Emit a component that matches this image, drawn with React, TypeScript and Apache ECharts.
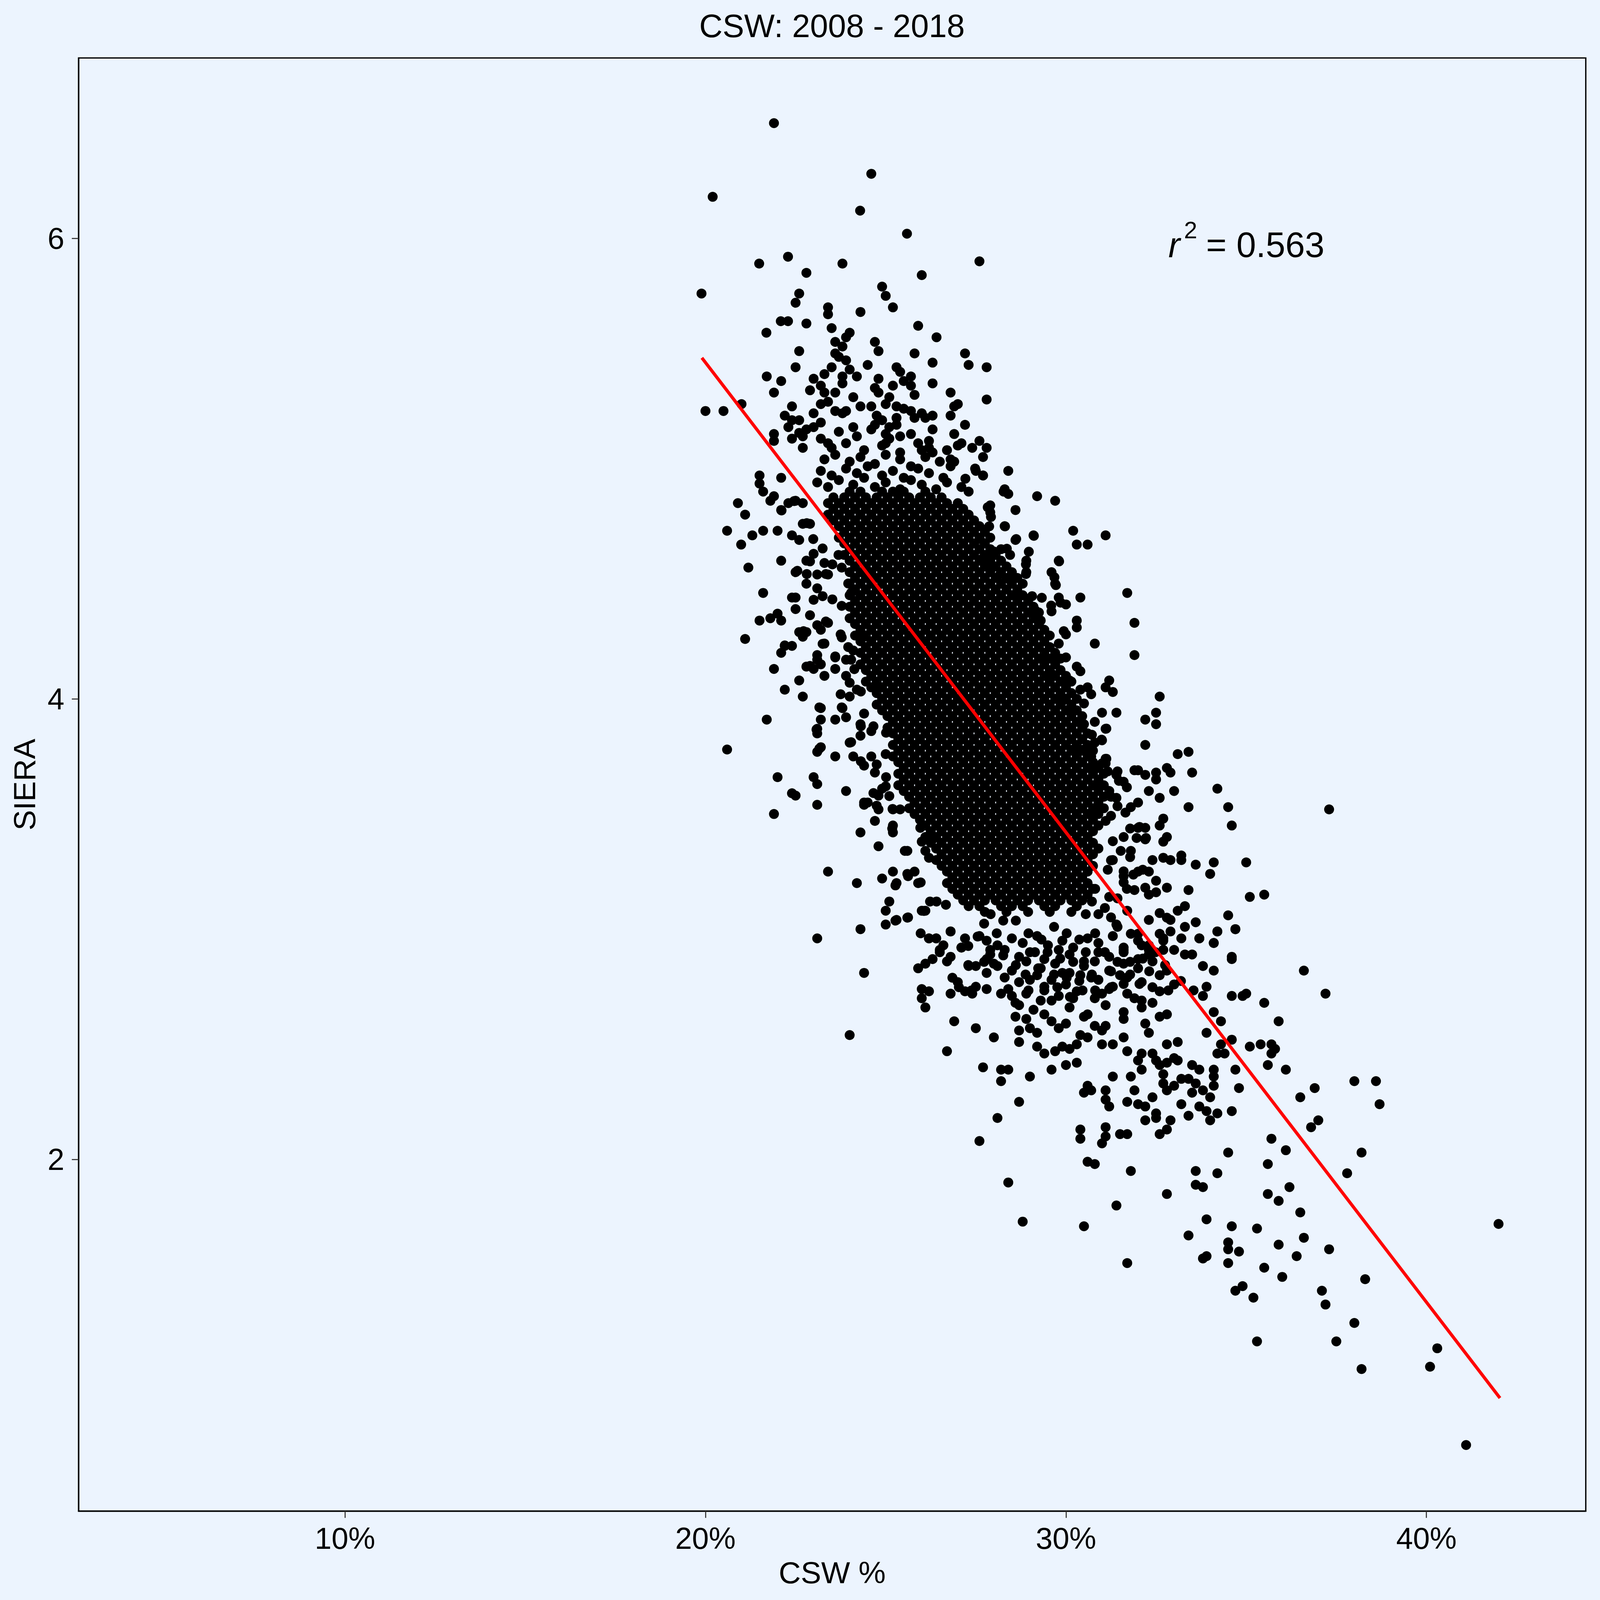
import React, { useEffect, useRef } from "react";
import * as echarts from "echarts";

const TITLE = "CSW: 2008 - 2018";
const X_NAME = "CSW %";
const Y_NAME = "SIERA";
const X_TICKS = [10, 20, 30, 40];
const Y_TICKS = [2, 4, 6];
const X_RANGE = [2.61, 44.42];
const Y_RANGE = [0.473, 6.783];
const FIT_LINE = [[19.9, 5.481], [42.04, 0.964]];
const R2_VALUE = "0.563";

// [CSW %, SIERA]
const topPoints = [
  [21.9,6.50],[24.6,6.28],[20.2,6.18],[24.29,6.12],[25.59,6.02],[22.29,5.92],[21.49,5.89],[23.8,5.89],[22.8,5.85],[27.6,5.90],
  [26.0,5.84],[19.89,5.76],[22.6,5.76],[22.5,5.72],[24.9,5.79],[25.0,5.75],[25.2,5.70],[23.4,5.70],[23.4,5.67],[24.3,5.68],
  [22.09,5.64],[22.29,5.64],[22.8,5.63],[23.5,5.61],[21.69,5.59],[25.9,5.62],[26.41,5.57],[24.0,5.59],[23.9,5.57],[24.7,5.55],
  [24.8,5.51],[23.6,5.55],[23.8,5.53],[23.6,5.50],[23.7,5.485],[23.9,5.47],[22.6,5.51],[25.8,5.50],[27.2,5.50],[27.3,5.45],
  [26.3,5.46],[27.8,5.44],[22.5,5.44],[24.5,5.45],[25.3,5.44],[25.4,5.42],[25.7,5.40],[25.5,5.38],[25.7,5.36],[25.8,5.32],
  [23.5,5.44],[23.3,5.41],[24.0,5.43],[24.2,5.40],[23.8,5.40],[23.8,5.37],[21.7,5.40],[22.1,5.38],[21.9,5.33],[23.0,5.39],
  [23.2,5.36],[22.9,5.34],[23.3,5.33],[23.6,5.33],[24.8,5.39],[24.7,5.35],[24.8,5.33],[25.2,5.36],[25.1,5.31],[26.3,5.37],
  [26.8,5.33],[27.8,5.30],[27.0,5.28],[26.9,5.27],[26.8,5.23],[24.1,5.31],[24.3,5.27],[23.2,5.28],[23.4,5.29],[22.4,5.27],
  [20.0,5.25],[20.5,5.25],[21.0,5.28],[22.2,5.23],[22.4,5.21],[22.6,5.21],[22.3,5.18],[23.0,5.24],[23.6,5.25],[23.8,5.24],
  [23.9,5.25],[24.6,5.27],[24.75,5.23],[24.7,5.19],[24.9,5.21],[25.1,5.18],[25.3,5.22],[25.3,5.19],[25.0,5.28],[25.3,5.27],
  [25.5,5.26],[25.7,5.25],[25.8,5.22],[26.0,5.24],[26.1,5.22],[26.3,5.23],[27.2,5.19],[26.3,5.17],[26.2,5.12],[26.2,5.09],
  [26.3,5.07],[25.7,5.15],[25.4,5.14],[25.0,5.15],[25.0,5.11],[24.1,5.18],[23.2,5.20],[23.0,5.18],[22.8,5.17],[22.6,5.155],
  [22.7,5.14],[21.9,5.15],[21.9,5.12],[22.4,5.13],[23.2,5.13],[23.4,5.11],[22.7,5.09],[26.9,5.15],[27.1,5.11],[27.0,5.10],
  [27.6,5.12],[27.8,5.09],[27.4,5.09],[27.7,5.05],[26.0,5.08],[26.7,5.08],[26.8,5.04],[26.9,5.03],[26.8,5.01],[28.4,4.99],
  [27.5,4.99],[27.7,4.97],[28.3,4.91],[28.4,4.89],[29.2,4.88],[29.7,4.86],[27.9,4.84],[27.9,4.81],[28.6,4.82],[21.5,4.97],
  [21.5,4.935],[21.6,4.90],[22.1,4.96],[20.9,4.85],[21.1,4.80],[21.8,4.86],[21.9,4.88],[22.1,4.82],[22.3,4.85],[22.5,4.86],
  [22.7,4.85]
];

// upper, less solid part of the core
const coreTop = [
  [23.7,5.16],[24.2,5.14],[24.6,5.17],[25.1,5.13],[23.5,5.09],[23.9,5.11],[24.4,5.08],[24.9,5.10],[25.4,5.07],[25.9,5.11],
  [23.3,5.04],[23.6,5.06],[24.0,5.03],[24.3,5.05],[24.7,5.02],[25.0,5.06],[25.4,5.04],[25.7,5.01],[26.1,5.05],[26.5,5.03],
  [23.2,4.99],[23.5,4.97],[23.9,5.00],[24.2,4.98],[24.5,5.01],[24.9,4.97],[25.2,4.99],[25.5,4.96],[25.9,5.00],[26.2,4.98],
  [26.6,4.96],[23.1,4.94],[23.4,4.92],[23.7,4.95],[24.1,4.93],[24.4,4.96],[24.7,4.92],[25.0,4.94],[25.4,4.91],[25.7,4.95],
  [26.0,4.93],[26.4,4.91],[26.7,4.94],[27.1,4.92]
];

const leftFringe = [
  [20.6,4.73],[21.3,4.71],[21.6,4.73],[22.0,4.73],[20.99,4.67],[21.19,4.57],[22.1,4.60],[22.4,4.71],[22.6,4.69],[22.7,4.76],
  [22.9,4.76],[22.5,4.55],[22.8,4.60],[23.0,4.63],[23.1,4.54],[23.4,4.54],[23.3,4.59],[21.6,4.46],[22.8,4.50],[23.1,4.48],
  [22.4,4.44],[22.5,4.44],[22.5,4.39],[23.0,4.43],[21.5,4.34],[21.8,4.35],[22.0,4.37],[22.1,4.34],[21.1,4.26],[22.6,4.29],
  [22.7,4.27],[22.8,4.29],[23.1,4.32],[23.4,4.33],[23.2,4.30],[22.2,4.23],[22.4,4.23],[22.1,4.20],[23.3,4.24],[21.9,4.13],
  [22.8,4.14],[23.0,4.13],[23.2,4.15],[22.6,4.08],[23.3,4.10],[22.2,4.04],[22.7,4.01],[23.1,4.19],[23.1,4.17],[23.6,4.18],
  [23.9,4.17],[23.6,4.13],[23.2,3.96],[23.2,3.91],[21.7,3.91],[20.6,3.78],[23.6,3.91],[23.8,3.96],[23.9,3.92],[23.1,3.87],
  [23.1,3.85],[23.2,3.79],[23.1,3.77],[23.6,3.75],[24.1,3.75],[24.0,3.81],[24.3,3.89],[24.3,3.84],[24.6,3.86],[24.0,4.01],
  [24.0,4.07],[22.0,3.66],[23.0,3.66],[23.1,3.63],[22.4,3.59],[22.5,3.58],[23.9,3.60],[23.1,3.54],[21.9,3.50],[24.3,3.42],
  [24.4,3.54],[24.5,3.55],[24.8,3.52],[24.7,3.47],[24.8,3.36],[25.2,3.45],[25.2,3.42],[25.6,3.34],[23.4,3.25],[24.2,3.20],
  [24.9,3.22],[25.2,3.25],[25.3,3.20],[25.6,3.24],[25.8,3.25],[25.9,3.20],[25.1,3.12],[25.0,3.08],[25.3,3.04],[25.0,3.02],
  [25.6,3.05],[24.3,3.00],[23.1,2.96],[26.0,3.08],[26.1,3.08],[26.2,3.31],[26.3,3.39],[26.0,3.38],[26.2,2.96],[26.4,2.96],
  [26.5,2.91],[26.8,2.99],[27.1,2.92],[25.96,3.44],[26.1,3.34],[24.4,3.71],[24.7,3.68],[24.6,3.75],[25.0,3.76],[24.9,3.61],
  [25.0,3.62],[24.8,3.58],[25.2,3.52],[25.4,3.52],[23.75,4.28],[24.1,4.21],[24.4,4.27],[23.9,4.10],[24.2,4.04],[23.75,4.02],
  [24.0,2.54],[24.4,2.81],[25.9,2.83],[26.0,2.74],[26.0,2.70],[26.1,2.66],[26.2,2.73],[26.8,2.99],[26.4,2.96],[26.2,2.96],
  [26.6,2.93],[26.5,2.90],[26.7,2.86],[26.8,2.88],[26.3,2.87],[26.1,2.85],[27.0,2.77],[27.2,2.73],[27.4,2.72],[27.5,2.75],
  [27.8,2.74],[26.8,2.72],[27.3,2.84],[27.5,2.84],[27.8,2.81],[27.8,2.87],[28.0,2.85],[27.1,2.92],[27.2,2.96],[27.6,2.97],
  [27.9,2.91],[22.11,4.818],[22.46,4.859],[22.81,4.763],[22.99,4.694],[23.25,4.653],[23.69,4.625],[23.52,4.584],[22.9,4.597],
  [22.81,4.542],[22.55,4.556],[23.34,4.542],[23.78,4.57],[23.96,4.501],[23.25,4.446],[23.52,4.432],[23.78,4.404],[24.04,4.46],
  [22.9,4.363],[23.34,4.336],[23.78,4.267],[22.72,4.294],[22.2,4.232],[23.25,4.239],[23.6,4.184],[22.9,4.143],[23.96,4.225],
  [24.04,4.17],[24.13,4.129],[23.16,3.963],[23.78,3.963],[24.31,4.032],[24.75,4.046],[24.4,3.936],[24.66,3.881],[25.01,3.853],
  [24.31,3.881],[23.08,3.867],[23.16,3.784],[24.04,3.812],[24.31,3.729],[24.75,3.715],[25.01,3.66],[24.66,3.591],[25.1,3.578],
  [25.19,3.522],[24.75,3.536],[24.4,3.55],[25.18,3.437],[25.53,3.34],[25.62,3.23],[25.97,3.203],[25.27,3.19],[26.23,3.12],
  [25.27,3.037],[25.62,3.051],[26.06,3.079],[26.41,3.12],[26.67,3.106],[25.97,2.982]
];

const rightFringe = [
  [28.3,4.75],[28.0,4.64],[28.6,4.69],[28.9,4.60],[28.9,4.55],[29.1,4.71],[29.6,4.55],[29.7,4.50],[29.6,4.38],[29.1,4.38],
  [29.3,4.34],[29.8,4.44],[30.0,4.41],[30.2,4.73],[30.3,4.67],[30.6,4.67],[31.1,4.71],[29.8,4.60],[31.7,4.46],[30.4,4.44],
  [31.9,4.33],[30.3,4.34],[30.3,4.31],[30.0,4.28],[30.8,4.24],[29.8,4.24],[31.9,4.19],[30.3,4.14],[30.4,4.12],[31.2,4.08],
  [31.3,4.03],[31.1,4.05],[30.7,4.02],[30.5,3.98],[30.0,4.00],[31.0,3.94],[31.4,3.94],[31.1,3.87],[31.0,3.82],[30.5,3.89],
  [31.1,3.74],[31.1,3.72],[31.9,3.69],[29.4,4.18],[29.7,4.16],[30.0,4.18],[29.6,4.11],[30.1,4.08],[29.9,3.99],[30.4,4.04],
  [30.6,4.05],[30.2,3.95],[30.8,3.90],[30.6,3.85],[30.8,3.81],[30.2,3.78],[30.5,3.78],[30.7,3.75],[31.0,3.72],[31.4,3.67],
  [31.6,3.64],[30.9,3.64],[31.2,3.60],[31.4,3.57],[31.8,3.53],[31.1,3.47],[31.6,3.40],[31.8,3.34],[31.3,3.30],[31.6,3.23],
  [31.9,3.17],[31.2,3.14],[31.7,3.08],[31.4,3.02],[31.8,2.98],[31.6,2.90],[32.6,4.01],[32.5,3.94],[32.2,3.91],[32.5,3.89],
  [32.2,3.80],[33.1,3.76],[33.4,3.77],[32.0,3.69],[32.2,3.67],[32.5,3.68],[32.5,3.65],[32.8,3.70],[32.9,3.68],[33.5,3.68],
  [34.2,3.61],[32.3,3.60],[33.0,3.60],[32.6,3.57],[32.0,3.55],[33.4,3.53],[34.5,3.53],[34.6,3.45],[37.3,3.52],[32.7,3.48],
  [32.6,3.45],[32.8,3.40],[32.7,3.38],[32.2,3.44],[32.2,3.39],[32.0,3.44],[32.4,3.30],[32.7,3.31],[32.9,3.30],[33.2,3.32],
  [33.2,3.30],[33.6,3.28],[34.1,3.29],[34.0,3.24],[35.0,3.29],[32.3,3.25],[32.0,3.25],[32.5,3.21],[32.8,3.18],[33.4,3.17],
  [32.2,3.18],[32.3,3.15],[32.5,3.16],[35.1,3.14],[35.5,3.15],[33.3,3.10],[33.1,3.08],[32.6,3.07],[32.8,3.05],[32.9,3.04],
  [32.3,3.04],[34.5,3.06],[33.6,3.03],[33.3,3.01],[32.9,2.99],[32.6,2.98],[32.7,2.95],[33.0,2.91],[33.2,2.96],[33.7,2.96],
  [34.2,2.99],[34.1,2.94],[34.7,3.00],[33.3,2.89],[33.5,2.89],[34.6,2.88],[32.0,2.98],[32.1,2.93],[32.3,2.91],
  [27.48,5.0],[27.7,4.97],[27.21,4.956],[27.3,4.9],[27.83,4.832],[27.92,4.79],[27.87,4.749],[27.61,4.694],[28.27,4.90],
  [28.31,4.749],[28.36,4.652],[28.62,4.694],[28.45,4.625],[28.01,4.625],[27.7,4.611],[27.92,4.57],[28.18,4.542],[28.45,4.515],
  [28.89,4.584],[28.97,4.639],[29.11,4.708],[28.89,4.542],[28.71,4.446],[29.06,4.446],[29.33,4.439],[29.68,4.528],[29.72,4.494],
  [29.81,4.597],[29.59,4.405],[29.15,4.384],[29.85,4.418],[29.94,4.294],[30.46,3.885],[30.72,3.844],[31.12,3.871],[30.99,3.823],
  [31.12,3.74],[30.86,3.70],[31.16,3.685],[31.43,3.685],[31.47,3.644],[31.69,3.616],[31.25,3.575],[31.43,3.534],[31.65,3.506],
  [30.9,3.534],[30.72,3.492],[31.25,3.492],[31.78,3.437],[32.04,3.444],[32.22,3.396],[31.96,3.396],[31.3,3.382],[31.52,3.34],
  [31.78,3.313],[31.25,3.299],[31.16,3.258],[31.6,3.251],[31.87,3.237],[32.13,3.258],[31.6,3.203],[31.69,3.175],[31.43,3.134],
  [30.81,3.175],[30.72,3.12],[31.08,3.092],[30.55,3.065]
];

const lowerTail = [
  [36.6,2.82],[37.2,2.72],[35.5,2.68],[35.9,2.60],[35.1,2.49],[35.4,2.50],[35.7,2.50],[35.8,2.48],[35.7,2.46],[35.6,2.41],
  [36.1,2.39],[34.6,2.71],[34.9,2.71],[35.0,2.72],[34.6,2.52],[34.7,2.39],[34.8,2.31],[36.9,2.31],[36.5,2.27],[37.0,2.17],
  [36.8,2.14],[35.7,2.09],[36.1,2.04],[34.5,2.03],[35.6,1.98],[37.8,1.94],[33.6,1.95],[34.2,1.94],[33.6,1.89],[33.8,1.88],
  [35.6,1.85],[35.9,1.82],[36.2,1.88],[32.8,1.85],[36.5,1.77],[33.9,1.74],[34.6,1.71],[35.3,1.70],[33.4,1.67],[36.6,1.66],
  [34.5,1.64],[34.5,1.61],[34.8,1.60],[35.9,1.63],[37.3,1.61],[33.8,1.57],[33.9,1.58],[34.5,1.55],[36.4,1.58],[35.5,1.53],
  [36.0,1.49],[34.7,1.43],[34.9,1.45],[35.2,1.40],[37.1,1.43],[37.2,1.37],[35.3,1.21],[37.5,1.21],[31.7,1.55],[31.4,1.80],
  [30.5,1.71],[28.8,1.73],[28.4,1.90],[27.6,2.08],[28.1,2.18],[28.7,2.25],[26.7,2.47],[31.8,1.95],[30.6,1.99],[30.8,1.98],
  [30.4,2.13],[30.4,2.09],[31.1,2.14],[31.1,2.10],[31.0,2.07],[31.5,2.11],[31.7,2.11],[32.6,2.11],[32.8,2.13],[32.2,2.17],
  [32.5,2.20],[32.5,2.18],[32.9,2.17],[33.4,2.19],[34.0,2.17],[34.2,2.20],[34.6,2.21],[33.9,2.21],[33.7,2.23],[33.2,2.24],
  [31.7,2.25],[32.0,2.24],[32.2,2.23],[32.4,2.27],[31.9,2.30],[31.1,2.30],[31.1,2.26],[31.2,2.23],[30.5,2.29],[30.6,2.32],
  [30.7,2.30],[31.3,2.36],[31.8,2.36],[33.5,2.29],[33.8,2.30],[34.0,2.27],[33.6,2.33],[34.1,2.32],[34.1,2.36],[34.1,2.39],
  [32.8,2.30],[32.7,2.33],[33.0,2.32],[33.2,2.35],[33.5,2.41],[33.7,2.39],[33.4,2.35],[32.1,2.39],[32.1,2.46],[32.4,2.46],
  [32.5,2.43],[32.6,2.41],[32.7,2.37],[32.8,2.42],[33.0,2.44],[33.1,2.43],[32.8,2.50],[33.1,2.51],[32.0,2.43],[31.7,2.47],
  [29.6,2.39],[30.0,2.41],[30.3,2.42],[28.2,2.34],[28.2,2.39],[28.4,2.39],[29.0,2.36],[27.7,2.40],[27.5,2.57],[28.0,2.53],
  [26.9,2.60],[29.2,2.49],[29.4,2.46],[29.7,2.47],[29.9,2.49],[30.1,2.48],[30.3,2.50],[30.6,2.53],[31.0,2.50],[31.3,2.50],
  [33.9,2.55],[34.1,2.64],[34.3,2.60],[34.2,2.46],[34.4,2.46],[34.3,2.50],[33.9,2.75],[33.8,2.71],[34.1,2.82],[34.2,2.99],
  [34.1,2.94],[34.7,3.00],[34.6,2.87],[33.8,2.84],[33.7,2.96],[28.2,2.72],[28.5,2.71],[28.7,2.67],[28.6,2.62],[28.7,2.56],
  [28.7,2.51],[29.0,2.57],[38.0,2.34],[38.6,2.34],[38.7,2.24],[38.2,2.03],[42.0,1.72],[38.3,1.48],[38.0,1.29],[40.3,1.18],
  [40.1,1.10],[38.2,1.09],[41.1,0.76]
];

// looser band below the solid core (SIERA 2.5 - 3.1)
const coreLower = [
  [27.8,2.95],[28.1,2.93],[28.5,2.96],[28.8,2.94],[29.2,2.97],[29.5,2.93],[29.9,2.95],[30.2,2.92],[30.6,2.96],[30.9,2.94],
  [31.3,2.97],[31.6,2.92],[32.0,2.95],[32.3,2.93],[32.7,2.96],[27.9,2.89],[28.3,2.91],[28.7,2.88],[29.0,2.90],[29.4,2.87],
  [29.8,2.91],[30.1,2.89],[30.5,2.86],[30.9,2.90],[31.2,2.88],[31.6,2.91],[32.0,2.87],[32.3,2.89],[32.7,2.91],[28.1,2.84],
  [28.5,2.82],[28.9,2.86],[29.3,2.83],[29.7,2.85],[30.1,2.81],[30.5,2.84],[30.8,2.86],[31.2,2.82],[31.6,2.85],[32.0,2.83],
  [32.4,2.86],[32.8,2.82],[28.3,2.79],[28.7,2.77],[29.2,2.80],[29.6,2.78],[30.0,2.76],[30.4,2.80],[30.9,2.78],[31.3,2.75],
  [31.7,2.79],[32.1,2.77],[32.6,2.80],[33.0,2.76],[28.4,2.74],[28.9,2.72],[29.4,2.75],[29.8,2.71],[30.3,2.73],[30.8,2.70],
  [31.2,2.74],[31.7,2.72],[32.1,2.69],[32.6,2.73],[28.6,2.68],[29.1,2.65],[29.6,2.69],[30.1,2.66],[30.6,2.63],[31.1,2.67],
  [31.6,2.64],[32.1,2.66],[32.6,2.62],[28.9,2.61],[29.4,2.63],[30.0,2.59],[30.5,2.62],[31.1,2.58],[31.6,2.61],[32.2,2.59],
  [32.8,2.63],[29.2,2.55],[29.8,2.57],[30.4,2.54],[31.0,2.56],[31.6,2.53],[32.3,2.55],[29.9,2.81],[30.7,2.79],[31.5,2.80],
  [29.0,2.78],[30.2,2.70],[31.0,2.72],[31.9,2.70],[29.3,2.69],[30.8,2.58],[29.6,2.60],[32.4,2.68],
  [30.9,3.065],[31.25,3.051],[31.43,3.01],[30.81,2.982],[30.37,2.955],[30.02,2.982],[29.67,3.01],[29.32,2.955],[28.96,2.982],
  [28.61,3.037],[28.26,3.037],[27.91,3.065],[27.73,3.024],[28.08,2.982],[27.55,2.968],[27.29,2.927],[29.14,2.90],[29.49,2.90],
  [29.84,2.872],[30.2,2.858],[30.55,2.90],[31.08,2.90],[31.43,2.858],[31.78,2.858],[32.13,2.872],[32.48,2.90],[32.75,2.844],
  [32.31,2.817],[31.78,2.803],[31.25,2.817],[30.72,2.803],[30.37,2.775],[30.02,2.789],[29.67,2.803],[29.23,2.83],[28.88,2.803],
  [28.96,2.734],[29.4,2.734],[29.76,2.748],[30.11,2.706],[30.46,2.734],[30.81,2.734],[31.25,2.748],[31.6,2.762],[32.04,2.762],
  [32.4,2.748],[32.84,2.734],[33.19,2.775],[33.54,2.734],[28.61,2.844],[28.26,2.886],[27.73,2.858],[27.29,2.844],[26.85,2.789],
  [27.03,2.748],[27.38,2.734]
];

// solid black core, read row by row: [SIERA, CSW % values]
const coreRows: [number, number[]][] = [
  [4.900, [24,24.3,24.9,25.2,25.5,26.1]],
  [4.875, [23.55,23.85,24.15,24.45,24.75,25.05,25.35,25.65,25.95,26.25,26.55]],
  [4.850, [23.4,23.7,24,24.3,24.6,24.9,25.2,25.5,25.8,26.1,26.4,26.7,27]],
  [4.825, [23.55,23.85,24.15,24.45,24.75,25.05,25.35,25.65,25.95,26.25,26.55,26.85,27.15]],
  [4.800, [23.4,23.7,24,24.3,24.6,24.9,25.2,25.5,25.8,26.1,26.4,26.7,27,27.3]],
  [4.775, [23.55,23.85,24.15,24.45,24.75,25.05,25.35,25.65,25.95,26.25,26.55,26.85,27.15,27.45]],
  [4.750, [23.7,24,24.3,24.6,24.9,25.2,25.5,25.8,26.1,26.4,26.7,27,27.3,27.6]],
  [4.725, [23.85,24.15,24.45,24.75,25.05,25.35,25.65,25.95,26.25,26.55,26.85,27.15,27.45,27.75]],
  [4.700, [23.7,24,24.3,24.6,24.9,25.2,25.5,25.8,26.1,26.4,26.7,27,27.3,27.6,27.9]],
  [4.675, [23.85,24.15,24.45,24.75,25.05,25.35,25.65,25.95,26.25,26.55,26.85,27.15,27.45,27.75]],
  [4.650, [24,24.3,24.6,24.9,25.2,25.5,25.8,26.1,26.4,26.7,27,27.3,27.6,27.9,28.2]],
  [4.625, [23.85,24.15,24.45,24.75,25.05,25.35,25.65,25.95,26.25,26.55,26.85,27.15,27.45,27.75,28.05]],
  [4.600, [24,24.3,24.6,24.9,25.2,25.5,25.8,26.1,26.4,26.7,27,27.3,27.6,27.9,28.2]],
  [4.575, [24.15,24.45,24.75,25.05,25.35,25.65,25.95,26.25,26.55,26.85,27.15,27.45,27.75,28.05,28.35]],
  [4.550, [24,24.3,24.6,24.9,25.2,25.5,25.8,26.1,26.4,26.7,27,27.3,27.6,27.9,28.2,28.5]],
  [4.525, [24.15,24.45,24.75,25.05,25.35,25.65,25.95,26.25,26.55,26.85,27.15,27.45,27.75,28.05,28.35,28.65]],
  [4.500, [24,24.3,24.6,24.9,25.2,25.5,25.8,26.1,26.4,26.7,27,27.3,27.6,27.9,28.2,28.5,28.8]],
  [4.475, [24.15,24.45,24.75,25.05,25.35,25.65,25.95,26.25,26.55,26.85,27.15,27.45,27.75,28.05,28.35,28.65]],
  [4.450, [24,24.3,24.6,24.9,25.2,25.5,25.8,26.1,26.4,26.7,27,27.3,27.6,27.9,28.2,28.5,28.8]],
  [4.425, [24.15,24.45,24.75,25.05,25.35,25.65,25.95,26.25,26.55,26.85,27.15,27.45,27.75,28.05,28.35,28.65,28.95]],
  [4.400, [24,24.3,24.6,24.9,25.2,25.5,25.8,26.1,26.4,26.7,27,27.3,27.6,27.9,28.2,28.5,28.8,29.1]],
  [4.375, [24.15,24.45,24.75,25.05,25.35,25.65,25.95,26.25,26.55,26.85,27.15,27.45,27.75,28.05,28.35,28.65,28.95,29.25]],
  [4.350, [24,24.3,24.6,24.9,25.2,25.5,25.8,26.1,26.4,26.7,27,27.3,27.6,27.9,28.2,28.5,28.8,29.1]],
  [4.325, [24.15,24.45,24.75,25.05,25.35,25.65,25.95,26.25,26.55,26.85,27.15,27.45,27.75,28.05,28.35,28.65,28.95,29.25]],
  [4.300, [24.3,24.6,24.9,25.2,25.5,25.8,26.1,26.4,26.7,27,27.3,27.6,27.9,28.2,28.5,28.8,29.1,29.4]],
  [4.275, [24.15,24.45,24.75,25.05,25.35,25.65,25.95,26.25,26.55,26.85,27.15,27.45,27.75,28.05,28.35,28.65,28.95,29.25,29.55]],
  [4.250, [24.3,24.6,24.9,25.2,25.5,25.8,26.1,26.4,26.7,27,27.3,27.6,27.9,28.2,28.5,28.8,29.1,29.4]],
  [4.225, [24.45,24.75,25.05,25.35,25.65,25.95,26.25,26.55,26.85,27.15,27.45,27.75,28.05,28.35,28.65,28.95,29.25,29.55]],
  [4.200, [24.3,24.6,24.9,25.2,25.5,25.8,26.1,26.4,26.7,27,27.3,27.6,27.9,28.2,28.5,28.8,29.1,29.4,29.7]],
  [4.175, [24.45,24.75,25.05,25.35,25.65,25.95,26.25,26.55,26.85,27.15,27.45,27.75,28.05,28.35,28.65,28.95,29.25,29.55,29.85]],
  [4.150, [24.3,24.6,24.9,25.2,25.5,25.8,26.1,26.4,26.7,27,27.3,27.6,27.9,28.2,28.5,28.8,29.1,29.4,29.7]],
  [4.125, [24.45,24.75,25.05,25.35,25.65,25.95,26.25,26.55,26.85,27.15,27.45,27.75,28.05,28.35,28.65,28.95,29.25,29.55,29.85]],
  [4.100, [24.6,24.9,25.2,25.5,25.8,26.1,26.4,26.7,27,27.3,27.6,27.9,28.2,28.5,28.8,29.1,29.4,29.7,30]],
  [4.075, [24.45,24.75,25.05,25.35,25.65,25.95,26.25,26.55,26.85,27.15,27.45,27.75,28.05,28.35,28.65,28.95,29.25,29.55,29.85,30.15]],
  [4.050, [24.6,24.9,25.2,25.5,25.8,26.1,26.4,26.7,27,27.3,27.6,27.9,28.2,28.5,28.8,29.1,29.4,29.7,30]],
  [4.025, [24.75,25.05,25.35,25.65,25.95,26.25,26.55,26.85,27.15,27.45,27.75,28.05,28.35,28.65,28.95,29.25,29.55,29.85,30.15]],
  [4.000, [24.9,25.2,25.5,25.8,26.1,26.4,26.7,27,27.3,27.6,27.9,28.2,28.5,28.8,29.1,29.4,29.7,30,30.3]],
  [3.975, [24.75,25.05,25.35,25.65,25.95,26.25,26.55,26.85,27.15,27.45,27.75,28.05,28.35,28.65,28.95,29.25,29.55,29.85,30.15]],
  [3.950, [24.9,25.2,25.5,25.8,26.1,26.4,26.7,27,27.3,27.6,27.9,28.2,28.5,28.8,29.1,29.4,29.7,30,30.3]],
  [3.925, [25.05,25.35,25.65,25.95,26.25,26.55,26.85,27.15,27.45,27.75,28.05,28.35,28.65,28.95,29.25,29.55,29.85,30.15,30.45]],
  [3.900, [25.2,25.5,25.8,26.1,26.4,26.7,27,27.3,27.6,27.9,28.2,28.5,28.8,29.1,29.4,29.7,30,30.3]],
  [3.875, [25.05,25.35,25.65,25.95,26.25,26.55,26.85,27.15,27.45,27.75,28.05,28.35,28.65,28.95,29.25,29.55,29.85,30.15,30.45]],
  [3.850, [25.2,25.5,25.8,26.1,26.4,26.7,27,27.3,27.6,27.9,28.2,28.5,28.8,29.1,29.4,29.7,30,30.3,30.6]],
  [3.825, [25.35,25.65,25.95,26.25,26.55,26.85,27.15,27.45,27.75,28.05,28.35,28.65,28.95,29.25,29.55,29.85,30.15,30.45]],
  [3.800, [25.2,25.5,25.8,26.1,26.4,26.7,27,27.3,27.6,27.9,28.2,28.5,28.8,29.1,29.4,29.7,30,30.3,30.6]],
  [3.775, [25.35,25.65,25.95,26.25,26.55,26.85,27.15,27.45,27.75,28.05,28.35,28.65,28.95,29.25,29.55,29.85,30.15,30.45,30.75]],
  [3.750, [25.2,25.5,25.8,26.1,26.4,26.7,27,27.3,27.6,27.9,28.2,28.5,28.8,29.1,29.4,29.7,30,30.3,30.6]],
  [3.725, [25.35,25.65,25.95,26.25,26.55,26.85,27.15,27.45,27.75,28.05,28.35,28.65,28.95,29.25,29.55,29.85,30.15,30.45,30.75]],
  [3.700, [25.5,25.8,26.1,26.4,26.7,27,27.3,27.6,27.9,28.2,28.5,28.8,29.1,29.4,29.7,30,30.3,30.6,30.9]],
  [3.675, [25.35,25.65,25.95,26.25,26.55,26.85,27.15,27.45,27.75,28.05,28.35,28.65,28.95,29.25,29.55,29.85,30.15,30.45,30.75,31.05]],
  [3.650, [25.5,25.8,26.1,26.4,26.7,27,27.3,27.6,27.9,28.2,28.5,28.8,29.1,29.4,29.7,30,30.3,30.6,30.9]],
  [3.625, [25.35,25.65,25.95,26.25,26.55,26.85,27.15,27.45,27.75,28.05,28.35,28.65,28.95,29.25,29.55,29.85,30.15,30.45,30.75,31.05]],
  [3.600, [25.5,25.8,26.1,26.4,26.7,27,27.3,27.6,27.9,28.2,28.5,28.8,29.1,29.4,29.7,30,30.3,30.6,30.9,31.2]],
  [3.575, [25.65,25.95,26.25,26.55,26.85,27.15,27.45,27.75,28.05,28.35,28.65,28.95,29.25,29.55,29.85,30.15,30.45,30.75,31.05]],
  [3.550, [25.8,26.1,26.4,26.7,27,27.3,27.6,27.9,28.2,28.5,28.8,29.1,29.4,29.7,30,30.3,30.6,30.9]],
  [3.525, [25.65,25.95,26.25,26.55,26.85,27.15,27.45,27.75,28.05,28.35,28.65,28.95,29.25,29.55,29.85,30.15,30.45,30.75,31.05]],
  [3.500, [25.8,26.1,26.4,26.7,27,27.3,27.6,27.9,28.2,28.5,28.8,29.1,29.4,29.7,30,30.3,30.6,30.9]],
  [3.475, [25.95,26.25,26.55,26.85,27.15,27.45,27.75,28.05,28.35,28.65,28.95,29.25,29.55,29.85,30.15,30.45,30.75]],
  [3.450, [26.1,26.4,26.7,27,27.3,27.6,27.9,28.2,28.5,28.8,29.1,29.4,29.7,30,30.3,30.6,30.9]],
  [3.425, [26.25,26.55,26.85,27.15,27.45,27.75,28.05,28.35,28.65,28.95,29.25,29.55,29.85,30.15,30.45,30.75]],
  [3.400, [26.1,26.4,26.7,27,27.3,27.6,27.9,28.2,28.5,28.8,29.1,29.4,29.7,30,30.3,30.6]],
  [3.375, [26.25,26.55,26.85,27.15,27.45,27.75,28.05,28.35,28.65,28.95,29.25,29.55,29.85,30.15,30.45,30.75]],
  [3.350, [26.4,26.7,27,27.3,27.6,27.9,28.2,28.5,28.8,29.1,29.4,29.7,30,30.3,30.6,30.9]],
  [3.325, [26.55,26.85,27.15,27.45,27.75,28.05,28.35,28.65,28.95,29.25,29.55,29.85,30.15,30.45,30.75]],
  [3.300, [26.4,26.7,27,27.3,27.6,27.9,28.2,28.5,28.8,29.1,29.4,29.7,30,30.3,30.6]],
  [3.275, [26.55,26.85,27.15,27.45,27.75,28.05,28.35,28.65,28.95,29.25,29.55,29.85,30.15,30.45,30.75]],
  [3.250, [26.7,27,27.3,27.6,27.9,28.2,28.5,28.8,29.1,29.4,29.7,30,30.3,30.6]],
  [3.225, [26.85,27.15,27.45,27.75,28.05,28.35,28.65,28.95,29.25,29.55,29.85,30.15,30.45]],
  [3.200, [26.7,27,27.3,27.6,27.9,28.2,28.5,28.8,29.1,29.4,29.7,30,30.3,30.6]],
  [3.175, [26.85,27.15,27.45,27.75,28.05,28.35,28.65,28.95,29.25,29.55,29.85,30.15,30.45,30.75]],
  [3.150, [27,27.3,27.6,27.9,28.2,28.5,28.8,29.1,29.4,29.7,30,30.3,30.6]],
  [3.125, [27.15,27.45,27.75,28.05,28.35,28.65,28.95,29.25,29.55,29.85,30.15,30.45]],
  [3.100, [27.3,27.6,28.2,28.5,28.8,29.4,29.7,30.3]],
  [3.075, [27.75,28.35,28.95,29.55,30.15]]
];

const FONT = "'Liberation Sans', Arial, Helvetica, sans-serif";
const BG = "#ECF4FE";
const REF = 4500;

export default function App() {
  const ref = useRef<HTMLDivElement>(null);
  const W = (typeof window !== "undefined" && window.innerWidth) || REF;
  const H = (typeof window !== "undefined" && window.innerHeight) || REF;

  useEffect(() => {
    if (!ref.current) return;
    const sx = W / REF;
    const sy = H / REF;
    const s = Math.min(sx, sy);
    const chart = echarts.init(ref.current, null, { renderer: "svg", width: W, height: H });

    const rowsToPoints = (rows: [number, number[]][]) => rows.flatMap(([y, xs]) => xs.map((x) => [x, y]));
    const points = [
      ...topPoints,
      ...coreTop,
      ...leftFringe,
      ...rightFringe,
      ...lowerTail,
      ...coreLower,
      ...rowsToPoints(coreRows),
    ];

    chart.setOption({
      animation: false,
      backgroundColor: BG,
      textStyle: { fontFamily: FONT },
      grid: {
        left: 221 * sx,
        top: 163 * sy,
        width: 4239 * sx,
        height: 4087 * sy,
        show: true,
        borderColor: "#000",
        borderWidth: 3.7 * s,
        backgroundColor: "transparent",
        containLabel: false,
        outerBoundsMode: "none",
      },
      xAxis: {
        type: "value",
        min: X_RANGE[0],
        max: X_RANGE[1],
        splitLine: { show: false },
        axisLine: { show: true, onZero: false, lineStyle: { color: "#000", width: 3.7 * s } },
        axisTick: { show: true, length: 19 * s, lineStyle: { color: "#333", width: 3 * s }, customValues: X_TICKS },
        axisLabel: {
          customValues: X_TICKS,
          formatter: (v: number) => `${v}%`,
          fontSize: 85 * s,
          color: "#000",
          margin: 34 * s,
          fontFamily: FONT,
        },
        name: X_NAME,
        nameLocation: "middle",
        nameGap: 130 * s,
        nameTextStyle: { fontSize: 86 * s, color: "#000", fontFamily: FONT },
      },
      yAxis: {
        type: "value",
        min: Y_RANGE[0],
        max: Y_RANGE[1],
        splitLine: { show: false },
        axisLine: { show: true, onZero: false, lineStyle: { color: "#000", width: 3.7 * s } },
        axisTick: { show: true, length: 19 * s, lineStyle: { color: "#333", width: 3 * s }, customValues: Y_TICKS },
        axisLabel: {
          customValues: Y_TICKS,
          fontSize: 85 * s,
          color: "#000",
          margin: 40 * s,
          fontFamily: FONT,
        },
        name: Y_NAME,
        nameLocation: "middle",
        nameGap: 109 * s,
        nameTextStyle: { fontSize: 86 * s, color: "#000", fontFamily: FONT },
      },
      graphic: [
        {
          type: "text",
          x: 2340 * sx,
          y: 73 * sy,
          style: { text: TITLE, fontSize: 91 * s, fill: "#000", textAlign: "center", textVerticalAlign: "middle", fontFamily: FONT },
        },
        {
          type: "text",
          x: 3286 * sx,
          y: 688 * sy,
          style: { text: "r", fontSize: 99 * s, fontStyle: "italic", fill: "#000", textAlign: "left", textVerticalAlign: "middle", fontFamily: FONT },
        },
        {
          type: "text",
          x: 3330 * sx,
          y: 647 * sy,
          style: { text: "2", fontSize: 67 * s, fill: "#000", textAlign: "left", textVerticalAlign: "middle", fontFamily: FONT },
        },
        {
          type: "text",
          x: 3392 * sx,
          y: 688 * sy,
          style: { text: "= " + R2_VALUE, fontSize: 99 * s, fill: "#000", textAlign: "left", textVerticalAlign: "middle", fontFamily: FONT },
        },
      ],
      series: [
        {
          type: "scatter",
          data: points,
          symbol: "circle",
          symbolSize: 28 * s,
          itemStyle: { color: "#000", opacity: 1 },
          progressive: 0,
          silent: true,
          z: 2,
        },
        {
          type: "line",
          data: FIT_LINE,
          symbol: "none",
          lineStyle: { color: "#FF0000", width: 9 * s },
          silent: true,
          z: 3,
        },
      ],
    });

    return () => chart.dispose();
  }, []);

  return (
    <div
      ref={ref}
      style={{ position: "fixed", left: 0, top: 0, width: `${W}px`, height: `${H}px`, background: BG }}
    />
  );
}
